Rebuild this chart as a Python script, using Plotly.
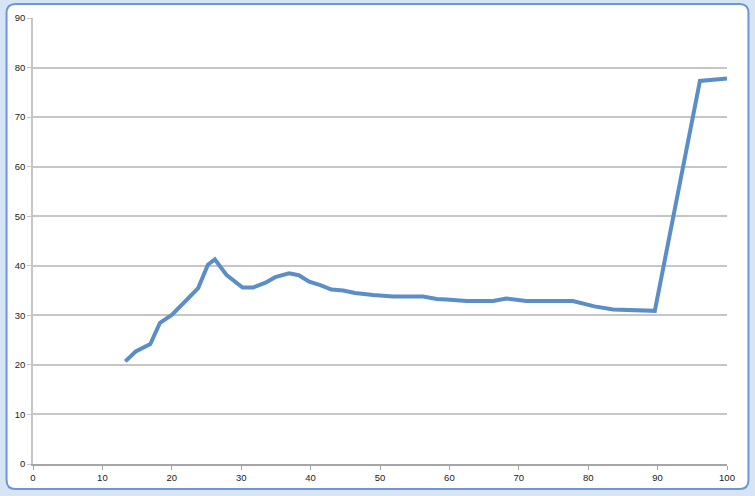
import plotly.graph_objects as go

x_vals = [13.3, 14.8, 16.9, 18.3, 20.0, 21.9, 23.8, 25.2, 26.2, 27.9, 30.2, 31.7, 33.5, 34.9,
          36.9, 38.3, 39.8, 41.4, 43.0, 44.7, 46.4, 49.0, 51.9, 56.2, 58.2, 59.6, 62.5, 66.3,
          68.2, 71.1, 77.8, 80.9, 83.6, 89.6, 96.1, 100.0]
y_vals = [20.7, 22.7, 24.2, 28.5, 30.1, 32.8, 35.5, 40.2, 41.3, 38.1, 35.6, 35.6, 36.6, 37.7,
          38.5, 38.1, 36.8, 36.1, 35.2, 35.0, 34.5, 34.1, 33.8, 33.8, 33.3, 33.2, 32.9, 32.9,
          33.4, 32.9, 32.9, 31.8, 31.2, 30.9, 77.3, 77.8]
x_ticks = [0, 10, 20, 30, 40, 50, 60, 70, 80, 90, 100]
y_ticks = [0, 10, 20, 30, 40, 50, 60, 70, 80, 90]

W, H = 755, 496
L, R, T, B = 32.5, 27.5, 18, 32
pw, ph = W - L - R, H - T - B

def px(xp):
    return (xp - L) / pw

def py(yp):
    return (H - B - yp) / ph

# rounded white frame in pixel coordinates
x0, x1, y0, y1, r = 6, 749, 4, 489, 9
path = (f"M {px(x0+r)},{py(y0)} L {px(x1-r)},{py(y0)} "
        f"Q {px(x1)},{py(y0)} {px(x1)},{py(y0+r)} "
        f"L {px(x1)},{py(y1-r)} Q {px(x1)},{py(y1)} {px(x1-r)},{py(y1)} "
        f"L {px(x0+r)},{py(y1)} Q {px(x0)},{py(y1)} {px(x0)},{py(y1-r)} "
        f"L {px(x0)},{py(y0+r)} Q {px(x0)},{py(y0)} {px(x0+r)},{py(y0)} Z")

fig = go.Figure()
fig.add_trace(go.Scatter(x=x_vals, y=y_vals, mode="lines",
                         line=dict(color="#5b8ec7", width=4), hoverinfo="skip"))

fig.update_layout(
    width=W, height=H,
    margin=dict(l=L, r=R, t=T, b=B, pad=0),
    paper_bgcolor="#d6e4f5",
    plot_bgcolor="rgba(0,0,0,0)",
    showlegend=False,
    font=dict(family="Liberation Sans, Arial", size=9.5, color="#222222"),
    shapes=[dict(type="path", path=path, xref="paper", yref="paper",
                 fillcolor="white", line=dict(color="#6b96d8", width=2), layer="below")],
)
fig.update_xaxes(range=[0, 100], tickvals=x_ticks, ticktext=[str(v) for v in x_ticks],
                 showgrid=False, zeroline=False, showline=True, linecolor="#a6a6a6", linewidth=1.5,
                 ticks="outside", ticklen=4, tickcolor="#a6a6a6", tickwidth=1, fixedrange=True)
fig.update_yaxes(range=[0, 90], tickvals=y_ticks, ticktext=[str(v) for v in y_ticks],
                 showgrid=True, gridcolor="#c6c6c6", gridwidth=1.5, zeroline=False,
                 showline=True, linecolor="#c6c6c6", linewidth=1.5,
                 ticks="outside", ticklen=4, tickcolor="#c6c6c6", tickwidth=1, fixedrange=True)

fig.write_html("out.html", config={"displayModeBar": False},
               post_script="document.body.style.margin='0';document.body.style.overflow='hidden';")
